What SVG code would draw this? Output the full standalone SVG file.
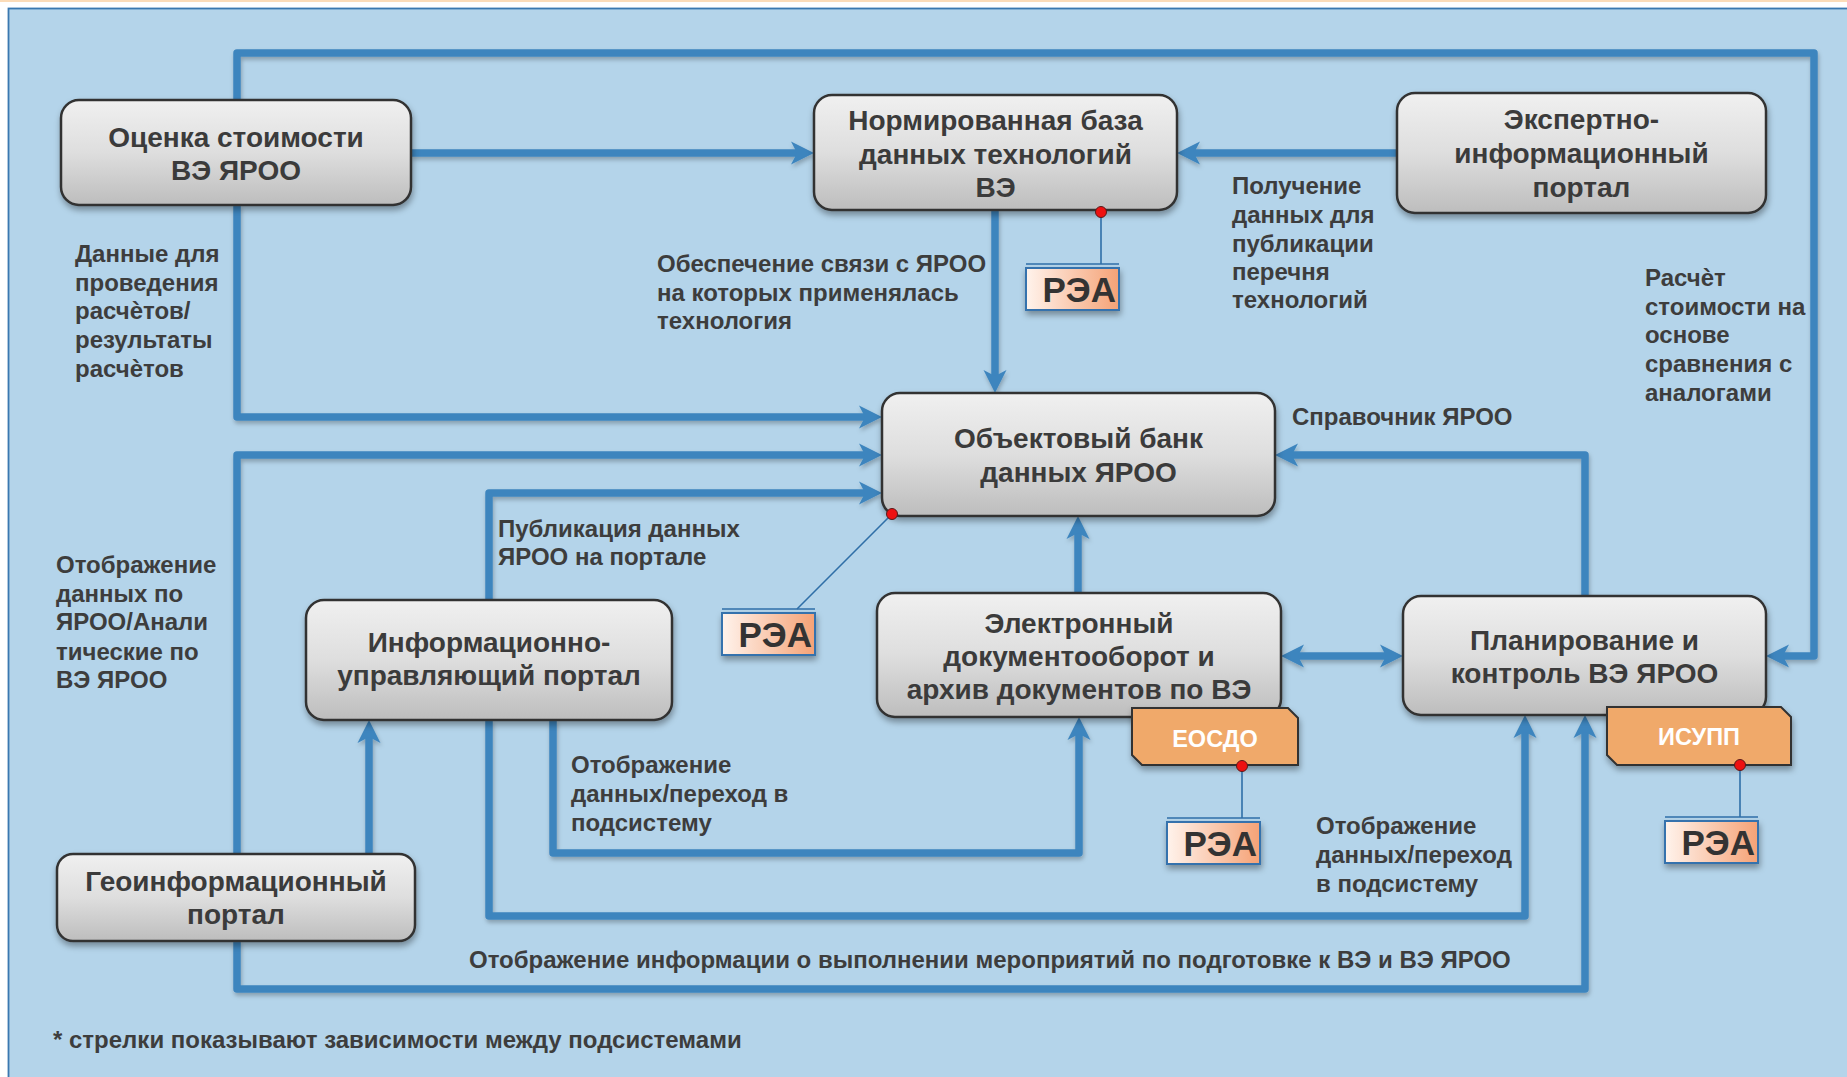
<svg xmlns="http://www.w3.org/2000/svg" width="1847" height="1077" viewBox="0 0 1847 1077">
<style>
.box{fill:url(#gbox);stroke:#333;stroke-width:2.5;filter:url(#sh)}
.nt{font-family:"Liberation Sans",Arial,sans-serif;font-weight:bold;font-size:28px;fill:#3b3b3b;text-anchor:middle}
.lb{font-family:"Liberation Sans",Arial,sans-serif;font-weight:bold;font-size:24px;fill:#3d3d3d}
.tg{fill:#f0a96a;stroke:#333;stroke-width:2;filter:url(#sh)}
.tt{font-family:"Liberation Sans",Arial,sans-serif;font-weight:bold;font-size:23.5px;fill:#fff;text-anchor:middle}
.rb{fill:url(#grea);stroke:#3572ad;stroke-width:2;filter:url(#sh)}
.rt{font-family:"Liberation Sans",Arial,sans-serif;font-weight:bold;font-size:35px;fill:#333;text-anchor:end}
.thin{stroke:#2f6fa8;stroke-width:1.6;fill:none}
.dot{fill:#ee1111;stroke:#5a1a1a;stroke-width:1}
.cn{fill:none;stroke:#3d85be;stroke-width:7.5;stroke-linejoin:round}
.ar{marker-end:url(#ah)}
</style>
<defs>
<linearGradient id="gbox" x1="0" y1="0" x2="0" y2="1">
<stop offset="0" stop-color="#f0f0f0"/><stop offset="0.5" stop-color="#dedede"/><stop offset="1" stop-color="#bdbdbd"/>
</linearGradient>
<linearGradient id="grea" x1="0" y1="0" x2="1" y2="0">
<stop offset="0" stop-color="#fff3ec"/><stop offset="1" stop-color="#f5a276"/>
</linearGradient>
<filter id="sh" x="-10%" y="-10%" width="130%" height="140%">
<feDropShadow dx="1" dy="4" stdDeviation="3" flood-color="#000" flood-opacity="0.35"/>
</filter>
<filter id="lsh" x="-5%" y="-5%" width="110%" height="110%">
<feDropShadow dx="1" dy="3" stdDeviation="2" flood-color="#000" flood-opacity="0.25"/>
</filter>
<marker id="ah" markerUnits="userSpaceOnUse" viewBox="-20 -14 32 28" refX="0" refY="0" markerWidth="32" markerHeight="28" orient="auto-start-reverse">
<path d="M-15,-11.5 L8,0 L-15,11.5 L-9,0 Z" fill="#3d85be"/>
</marker>
</defs>

<rect x="0" y="0" width="1847" height="1077" fill="#ffffff"/>
<rect x="0" y="0" width="1847" height="2" fill="#fcdcb8"/>
<rect x="8.5" y="8.5" width="1845" height="1075" fill="#b4d4ea" stroke="#3a78b0" stroke-width="1.8"/>

<g id="connectors" filter="url(#lsh)">
<path class="cn ar" d="M411,153 H806"/>
<path class="cn ar" d="M1397,153 H1185"/>
<path class="cn ar" d="M995,210 V385"/>
<path class="cn ar" d="M237,100 V53 H1814 V656 H1774"/>
<path class="cn ar" d="M237,205 V417 H874"/>
<path class="cn ar" d="M237,854 V455 H874"/>
<path class="cn ar" d="M237,941 V989 H1585 V723"/>
<path class="cn ar" d="M489,600 V493 H874"/>
<path class="cn ar" d="M369,854 V728"/>
<path class="cn ar" d="M489,720 V916 H1525 V723"/>
<path class="cn ar" d="M553,720 V853 H1079 V725"/>
<path class="cn ar" d="M1078,593 V524"/>
<path class="cn ar" d="M1585,596 V455 H1283"/>
<path class="cn" d="M1289,656 H1395" marker-start="url(#ah)" marker-end="url(#ah)"/>
</g>

<g id="labels">
<text class="lb" x="75" y="262">Данные для</text>
<text class="lb" x="75" y="291">проведения</text>
<text class="lb" x="75" y="319">расчѐтов/</text>
<text class="lb" x="75" y="348">результаты</text>
<text class="lb" x="75" y="377">расчѐтов</text>
<text class="lb" x="657" y="272">Обеспечение связи с ЯРОО</text>
<text class="lb" x="657" y="301">на которых применялась</text>
<text class="lb" x="657" y="329">технология</text>
<text class="lb" x="1232" y="194">Получение</text>
<text class="lb" x="1232" y="223">данных для</text>
<text class="lb" x="1232" y="252">публикации</text>
<text class="lb" x="1232" y="280">перечня</text>
<text class="lb" x="1232" y="308">технологий</text>
<text class="lb" x="1645" y="286">Расчѐт</text>
<text class="lb" x="1645" y="315">стоимости на</text>
<text class="lb" x="1645" y="343">основе</text>
<text class="lb" x="1645" y="372">сравнения с</text>
<text class="lb" x="1645" y="401">аналогами</text>
<text class="lb" x="1292" y="425">Справочник ЯРОО</text>
<text class="lb" x="498" y="537">Публикация данных</text>
<text class="lb" x="498" y="565">ЯРОО на портале</text>
<text class="lb" x="56" y="573">Отображение</text>
<text class="lb" x="56" y="602">данных по</text>
<text class="lb" x="56" y="630">ЯРОО/Анали</text>
<text class="lb" x="56" y="660">тические по</text>
<text class="lb" x="56" y="688">ВЭ ЯРОО</text>
<text class="lb" x="571" y="773">Отображение</text>
<text class="lb" x="571" y="802">данных/переход в</text>
<text class="lb" x="571" y="831">подсистему</text>
<text class="lb" x="1316" y="834">Отображение</text>
<text class="lb" x="1316" y="863">данных/переход</text>
<text class="lb" x="1316" y="892">в подсистему</text>
<text class="lb" x="469" y="968">Отображение информации о выполнении мероприятий по подготовке к ВЭ и ВЭ ЯРОО</text>
<text class="lb" x="53" y="1048">* стрелки показывают зависимости между подсистемами</text>
</g>

<g id="n-ocenka">
<rect class="box" x="61" y="100" width="350" height="105" rx="18"/>
<text class="nt" x="236" y="147">Оценка стоимости</text>
<text class="nt" x="236" y="180">ВЭ ЯРОО</text>
</g>
<g id="n-normbaza">
<rect class="box" x="814" y="95" width="363" height="115" rx="18"/>
<text class="nt" x="995.5" y="130">Нормированная база</text>
<text class="nt" x="995.5" y="164">данных технологий</text>
<text class="nt" x="995.5" y="197">ВЭ</text>
</g>
<g id="n-expert">
<rect class="box" x="1397" y="93" width="369" height="120" rx="18"/>
<text class="nt" x="1581.5" y="129">Экспертно-</text>
<text class="nt" x="1581.5" y="163">информационный</text>
<text class="nt" x="1581.5" y="197">портал</text>
</g>
<g id="n-objbank">
<rect class="box" x="882" y="393" width="393" height="123" rx="18"/>
<text class="nt" x="1078.5" y="448">Объектовый банк</text>
<text class="nt" x="1078.5" y="482">данных ЯРОО</text>
</g>
<g id="n-infoportal">
<rect class="box" x="306" y="600" width="366" height="120" rx="18"/>
<text class="nt" x="489" y="652">Информационно-</text>
<text class="nt" x="489" y="685">управляющий портал</text>
</g>
<g id="n-edo">
<rect class="box" x="877" y="593" width="404" height="124" rx="18"/>
<text class="nt" x="1079" y="633">Электронный</text>
<text class="nt" x="1079" y="666">документооборот и</text>
<text class="nt" x="1079" y="699">архив документов по ВЭ</text>
</g>
<g id="n-plan">
<rect class="box" x="1403" y="596" width="363" height="119" rx="18"/>
<text class="nt" x="1584.5" y="650">Планирование и</text>
<text class="nt" x="1584.5" y="683">контроль ВЭ ЯРОО</text>
</g>
<g id="n-geo">
<rect class="box" x="57" y="854" width="358" height="87" rx="16"/>
<text class="nt" x="236" y="891">Геоинформационный</text>
<text class="nt" x="236" y="924">портал</text>
</g>

<g id="t-eosdo">
<path class="tg" d="M1132,708 H1288 L1298,718 V765 H1142 L1132,755 Z"/>
<text class="tt" x="1215" y="747">ЕОСДО</text>
</g>
<g id="t-isupp">
<path class="tg" d="M1607,707 H1781 L1791,717 V765 H1617 L1607,755 Z"/>
<text class="tt" x="1699" y="745">ИСУПП</text>
</g>

<g id="rea-1">
<line class="thin" x1="1101" y1="212" x2="1101" y2="264"/>
<line class="thin" x1="1026" y1="264" x2="1119" y2="264"/>
<rect class="rb" x="1026" y="268" width="93" height="42"/>
<text class="rt" x="1116" y="302">РЭА</text>
<circle class="dot" cx="1101" cy="212" r="5.5"/>
</g>
<g id="rea-2">
<line class="thin" x1="892" y1="514" x2="797" y2="609"/>
<line class="thin" x1="722" y1="609" x2="815" y2="609"/>
<rect class="rb" x="722" y="613" width="93" height="42"/>
<text class="rt" x="812" y="647">РЭА</text>
<circle class="dot" cx="892" cy="514" r="5.5"/>
</g>
<g id="rea-3">
<line class="thin" x1="1242" y1="766" x2="1242" y2="818"/>
<line class="thin" x1="1167" y1="818" x2="1260" y2="818"/>
<rect class="rb" x="1167" y="822" width="93" height="42"/>
<text class="rt" x="1257" y="856">РЭА</text>
<circle class="dot" cx="1242" cy="766" r="5.5"/>
</g>
<g id="rea-4">
<line class="thin" x1="1740" y1="765" x2="1740" y2="817"/>
<line class="thin" x1="1665" y1="817" x2="1758" y2="817"/>
<rect class="rb" x="1665" y="821" width="93" height="42"/>
<text class="rt" x="1755" y="855">РЭА</text>
<circle class="dot" cx="1740" cy="765" r="5.5"/>
</g>
</svg>
